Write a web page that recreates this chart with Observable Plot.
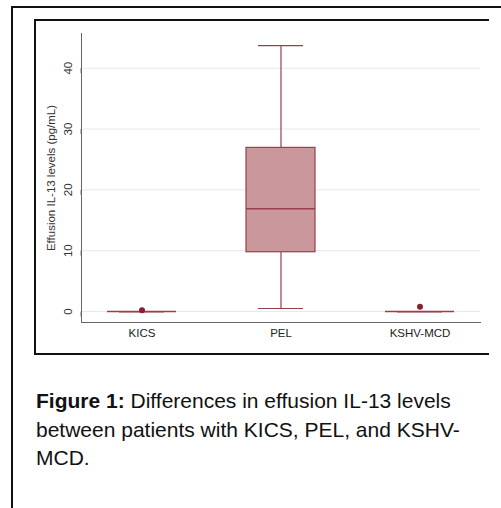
<!DOCTYPE html>
<html>
<head>
<meta charset="utf-8">
<script src="https://cdn.jsdelivr.net/npm/d3@7"></script>
<script src="https://cdn.jsdelivr.net/npm/@observablehq/plot@0.6"></script>
<style>
  html, body { margin: 0; padding: 0; background: #fff; }
  #page { position: relative; width: 501px; height: 508px; overflow: hidden; background: #fff; font-family: "Liberation Sans", Arial, sans-serif; }
  #outer { position: absolute; left: 11px; top: 6px; width: 492px; height: 510px; border-left: 2px solid #111; border-top: 2px solid #111; box-sizing: border-box; }
  #inner { position: absolute; left: 34px; top: 19px; width: 455px; height: 336px; border-left: 2px solid #111; border-top: 2px solid #111; border-bottom: 2px solid #111; box-sizing: border-box; }
  #chart { position: absolute; left: 36px; top: 22px; }
  #caption { position: absolute; left: 36px; top: 387px; font-size: 21px; line-height: 28.5px; color: #111; white-space: nowrap; }
  #caption b { font-weight: bold; }
</style>
</head>
<body>
<div id="page">
  <div id="outer"></div>
  <div id="inner"></div>
  <div id="chart"></div>
  <div id="caption"><b>Figure 1:</b> Differences in effusion IL-13 levels<br>between patients with KICS, PEL, and KSHV-<br>MCD.</div>
</div>
<script>
// Data
const categories = ["KICS", "PEL", "KSHV-MCD"];
const lowerWhisker = [0, 0.5, 0];
const q1 = [0, 9.75, 0];
const median = [0, 16.9, 0];
const q3 = [0, 26.9, 0];
const upperWhisker = [0, 43.7, 0];
const outlierGroups = ["KICS", "KSHV-MCD"];
const outlierValues = [0.2, 0.8];
const yTicks = [0, 10, 20, 30, 40];
const yLabel = "Effusion IL-13 levels (pg/mL)";

const boxes = categories.map((c, i) => ({
  group: c, lo: lowerWhisker[i], q1: q1[i], med: median[i], q3: q3[i], hi: upperWhisker[i]
}));
const outliers = outlierGroups.map((g, i) => ({group: g, value: outlierValues[i]}));

const strokeColor = "#9a3e4c";
const fillColor = "#c9979c";
const dotColor = "#8a1f2f";

const chart = Plot.plot({
  width: 452,
  height: 330,
  marginLeft: 45,
  marginRight: 8,
  marginTop: 11,
  marginBottom: 30,
  style: {fontFamily: "'Liberation Sans', Arial, sans-serif", fontSize: "11px", background: "transparent", color: "#222"},
  x: {type: "band", domain: categories, paddingInner: 0.505, paddingOuter: 0.183, label: null},
  y: {domain: [-1.8, 45.7], label: null},
  marks: [
    Plot.ruleY(yTicks, {stroke: "#e8e8e8", strokeWidth: 1}),
    Plot.axisY({ticks: yTicks, tickSize: 5, tickPadding: 8, rotate: -90, textAnchor: "middle", stroke: "#777", fill: "#333", fontSize: 11.5, label: null}),
    Plot.axisX({tickSize: 0, tickPadding: 6, fill: "#222", fontSize: 11.5, label: null}),
    Plot.frame({anchor: "left", stroke: "#666"}),
    Plot.frame({anchor: "bottom", stroke: "#666"}),
    Plot.text([yLabel], {frameAnchor: "left", dx: -30, rotate: -90, textAnchor: "middle", lineAnchor: "middle", fontSize: 11.5, fill: "#333"}),
    Plot.ruleX(boxes, {x: "group", y1: "lo", y2: "q1", stroke: strokeColor, strokeWidth: 1.2}),
    Plot.ruleX(boxes, {x: "group", y1: "q3", y2: "hi", stroke: strokeColor, strokeWidth: 1.2}),
    Plot.tickY(boxes, {x: "group", y: "lo", stroke: strokeColor, strokeWidth: 1.2, insetLeft: 12, insetRight: 12}),
    Plot.tickY(boxes, {x: "group", y: "hi", stroke: strokeColor, strokeWidth: 1.2, insetLeft: 12, insetRight: 12}),
    Plot.barY(boxes, {x: "group", y1: "q1", y2: "q3", fill: fillColor, stroke: strokeColor, strokeWidth: 1.2}),
    Plot.tickY(boxes, {x: "group", y: "med", stroke: strokeColor, strokeWidth: 1.4}),
    Plot.dot(outliers, {x: "group", y: "value", r: 3, fill: dotColor, stroke: "none"})
  ]
});
document.getElementById("chart").appendChild(chart);
</script>
</body>
</html>
